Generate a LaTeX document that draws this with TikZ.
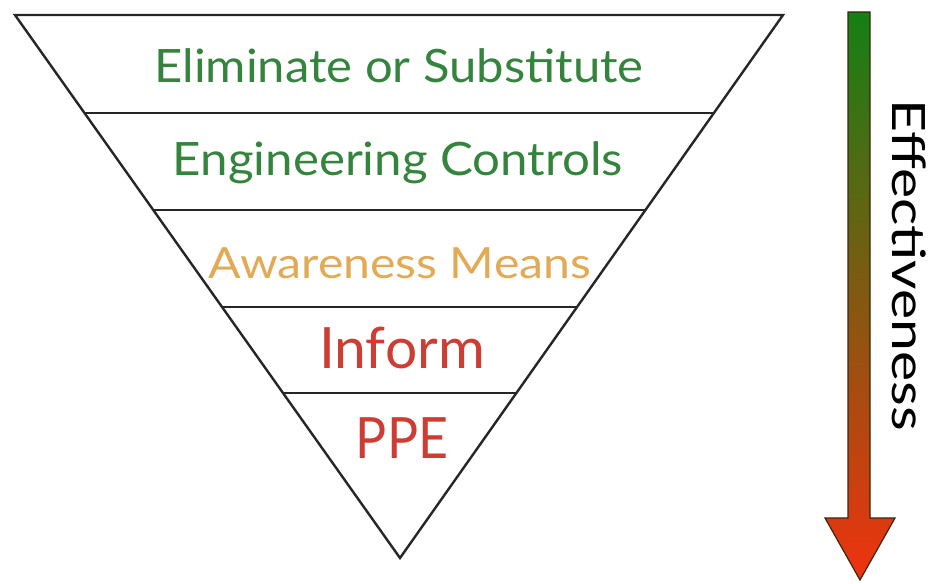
\documentclass[tikz,border=0pt]{standalone}
\usepackage{fontspec}
\setmainfont{Lato}
\usetikzlibrary{calc}
\definecolor{tgreen}{RGB}{52,132,62}
\definecolor{torange}{RGB}{226,170,84}
\definecolor{tred}{RGB}{204,62,52}
\definecolor{agreen}{RGB}{20,128,20}
\definecolor{ared}{RGB}{240,50,15}
\tikzset{
  level/.style={anchor=base, inner sep=0pt},
  sep/.style={line width=2.4pt, black!85},
}
\begin{document}
\begin{tikzpicture}[x=1pt,y=-1pt]
\useasboundingbox (0,0) rectangle (936,583);
\coordinate (TL) at (15,15);
\coordinate (TR) at (783,15);
\coordinate (B) at (400,558);
\draw[sep, line join=miter] (TL) -- (TR) -- (B) -- cycle;
\foreach \t/\n in {0.1805/a,0.3591/b,0.5378/c,0.6961/d}{
  \draw[sep] ($(TL)!\t!(B)$) -- ($(TR)!\t!(B)$);
}
\node[level, text=tgreen, font=\fontsize{46}{50}\selectfont] (l1) at (399,83) {\scalebox{1.065}[1]{Eliminate or Substitute}};
\node[level, text=tgreen, font=\fontsize{46}{50}\selectfont] (l2) at (398,175) {\scalebox{1.07}[1]{Engineering Controls}};
\node[level, text=torange, font=\fontsize{43}{48}\selectfont] (l3) at (400,278) {\scalebox{1.12}[1]{Awareness Means}};
\node[level, text=tred, font=\fontsize{57}{60}\selectfont] (l4) at (402,368) {Inform};
\node[level, text=tred, font=\fontsize{57}{60}\selectfont] (l5) at (402,458) {\scalebox{0.91}[1]{PPE}};
% arrow
\shade[top color=agreen, bottom color=ared, draw=black!70!brown, line width=1.2pt, line join=miter]
  (848,12) -- (870,12) -- (870,518) -- (895,518) -- (860,580) -- (825,518) -- (848,518) -- cycle;
\node[anchor=base, rotate=-90, inner sep=0pt, font=\fontsize{46}{50}\selectfont] (eff) at (892,265) {\scalebox{1.24}[1]{Effectiveness}};
\end{tikzpicture}
\end{document}
